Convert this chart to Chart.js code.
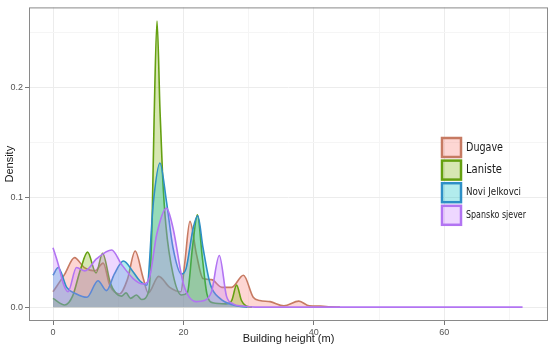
<!DOCTYPE html>
<html>
<head>
<meta charset="utf-8">
<script src="https://cdn.jsdelivr.net/npm/chart.js@4.4.0/dist/chart.umd.min.js"></script>
<style>
  html, body { margin: 0; padding: 0; background: #fff; }
  canvas { display: block; }
</style>
</head>
<body>
<canvas id="chart" width="550" height="347"></canvas>
<script>
// kernel density curves (x = building height in m)
const seriesNames = ['Dugave', 'Laniste', 'Novi Jelkovci', 'Spansko sjever'];

const dugaveX = [0, 1.8, 3.3, 4.8, 6.4, 7.7, 8.7, 10.2, 11.4, 12.6, 13.8, 14.6, 16.2, 17.9, 19.6, 20.2, 21.0, 22.0, 23.0, 24.3, 25.9, 27.4, 29.2, 30.7, 31.7, 33.3, 35.4, 37.7, 39.3, 41.0, 42.5, 44];
const dugaveY = [0.014, 0.030, 0.045, 0.036, 0.033, 0.040, 0.020, 0.012, 0.025, 0.051, 0.027, 0.013, 0.028, 0.018, 0.014, 0.040, 0.078, 0.048, 0.026, 0.025, 0.018, 0.018, 0.029, 0.009, 0.006, 0.005, 0.0012, 0.0055, 0.0012, 0.001, 0.0003, 0];

const lanisteX = [0, 1.8, 3.0, 4.2, 5.3, 6.6, 7.6, 8.8, 9.6, 10.5, 11.2, 11.9, 12.8, 13.6, 14.7, 15.2, 15.5, 15.95, 16.4, 16.8, 17.3, 18.4, 19.7, 20.6, 21.4, 22.15, 22.9, 23.6, 24.5, 26.5, 27.4, 28.15, 28.9, 29.6, 30.5];
const lanisteY = [0.008, 0.002, 0.010, 0.034, 0.050, 0.031, 0.049, 0.022, 0.013, 0.010, 0.013, 0.008, 0.011, 0.007, 0.015, 0.080, 0.170, 0.260, 0.180, 0.120, 0.075, 0.030, 0.011, 0.013, 0.055, 0.084, 0.045, 0.012, 0.004, 0.003, 0.006, 0.020, 0.006, 0.001, 0];

const noviX = [0, 0.8, 2.1, 3.6, 5.2, 6.9, 8.2, 9.4, 10.8, 12.3, 13.3, 14.4, 15.4, 16.4, 17.4, 18.4, 19.7, 20.4, 21.5, 22.2, 23.0, 24.1, 25.6, 27.6, 29.8];
const noviY = [0.029, 0.036, 0.018, 0.012, 0.009, 0.024, 0.015, 0.030, 0.042, 0.032, 0.024, 0.020, 0.096, 0.131, 0.096, 0.054, 0.030, 0.035, 0.072, 0.083, 0.054, 0.021, 0.008, 0.002, 0];

const spanskoX = [0, 0.8, 1.6, 2.3, 3.6, 4.9, 6.7, 9.0, 10.5, 12.3, 13.8, 14.8, 15.9, 17.4, 18.4, 20.0, 22.0, 23.2, 24.3, 25.5, 26.6, 27.6, 29.0, 31.0, 72];
const spanskoY = [0.054, 0.039, 0.021, 0.014, 0.036, 0.033, 0.044, 0.052, 0.039, 0.026, 0.021, 0.027, 0.066, 0.090, 0.072, 0.021, 0.005, 0.006, 0.014, 0.047, 0.010, 0.003, 0.001, 0, 0];

const xTicks = [0, 10, 20, 30, 40, 50, 60, 70];
const xTickLabels = ['0', '', '20', '', '40', '', '60', ''];
const yTicks = [0, 0.05, 0.1, 0.15, 0.2, 0.25];
const yTickLabels = ['0.0', '', '0.1', '', '0.2', ''];

const lineColors = ['#c67a62', '#65a010', '#2e8fc6', '#b274f2'];
const fillColors = ['rgba(248,118,109,0.3)', 'rgba(124,174,0,0.3)', 'rgba(0,191,196,0.3)', 'rgba(199,124,255,0.3)'];

function toPoints(xs, ys) {
  return xs.map((x, i) => ({x: x, y: ys[i]}));
}

const allX = [dugaveX, lanisteX, noviX, spanskoX];
const allY = [dugaveY, lanisteY, noviY, spanskoY];

const datasets = seriesNames.map((name, i) => ({
  label: name,
  data: toPoints(allX[i], allY[i]),
  borderColor: lineColors[i],
  backgroundColor: fillColors[i],
  borderWidth: 1.6,
  pointRadius: 0,
  fill: 'origin',
  cubicInterpolationMode: 'monotone',
  order: seriesNames.length - i   // first series at the bottom
}));

// ggplot-ish panel border
const panelBorder = {
  id: 'panelBorder',
  afterDraw(chart) {
    const a = chart.chartArea, ctx = chart.ctx;
    ctx.save();
    ctx.strokeStyle = '#8a8a8a';
    ctx.lineWidth = 1;
    ctx.strokeRect(a.left + 0.5, a.top + 0.5, a.right - a.left - 1, a.bottom - a.top - 1);
    ctx.restore();
  }
};

// legend keys drawn inside the panel
const legendKeys = {
  id: 'legendKeys',
  afterDraw(chart) {
    const ctx = chart.ctx;
    // the legend in the figure uses uneven text sizes; squeeze each label to its width there
    const textWidths = [37, 36, 55, 60];
    const fontSizes = [13, 12.5, 10, 10];
    const keyX = 442, keyY = 138, step = 22.6, size = 19;
    ctx.save();
    seriesNames.forEach((name, i) => {
      const y = keyY + i * step;
      ctx.fillStyle = fillColors[i];
      ctx.fillRect(keyX, y, size, size);
      ctx.strokeStyle = lineColors[i];
      ctx.lineWidth = 2.5;
      ctx.strokeRect(keyX, y, size, size);
      ctx.fillStyle = '#1a1a1a';
      ctx.font = fontSizes[i] + 'px "DejaVu Sans"';
      ctx.textBaseline = 'middle';
      ctx.fillText(name, keyX + size + 5, y + size / 2, textWidths[i]);
    });
    ctx.restore();
  }
};

new Chart(document.getElementById('chart'), {
  type: 'line',
  data: {datasets: datasets},
  options: {
    responsive: false,
    animation: false,
    layout: {padding: {top: 4, right: 2, left: 0, bottom: 0}},
    plugins: {
      legend: {display: false},
      tooltip: {enabled: false}
    },
    scales: {
      x: {
        type: 'linear',
        min: -3.68,
        max: 75.9,
        afterBuildTicks: scale => { scale.ticks = xTicks.map(v => ({value: v})); },
        afterFit: scale => { scale.height = 26; },
        ticks: {
          autoSkip: false,
          maxRotation: 0,
          padding: 2,
          color: '#555',
          font: {family: 'Liberation Sans', size: 9},
          callback: (v, i) => xTickLabels[i]
        },
        grid: {
          color: ctx => (ctx.index % 2 === 0 ? '#ececec' : '#f5f5f5'),
          tickColor: ctx => (ctx.index % 2 === 0 ? '#777' : 'rgba(0,0,0,0)'),
          tickLength: 4,
          lineWidth: 1
        },
        border: {display: false},
        title: {
          display: true,
          text: 'Building height (m)',
          color: '#1a1a1a',
          font: {family: 'Liberation Sans', size: 11},
          padding: {top: 0, bottom: 1}
        }
      },
      y: {
        type: 'linear',
        min: -0.0126,
        max: 0.2725,
        afterBuildTicks: scale => { scale.ticks = yTicks.map(v => ({value: v})); },
        afterFit: scale => { scale.width = 29; },
        ticks: {
          autoSkip: false,
          padding: 2,
          color: '#555',
          font: {family: 'Liberation Sans', size: 9},
          callback: (v, i) => yTickLabels[i]
        },
        grid: {
          color: ctx => (ctx.index % 2 === 0 ? '#ececec' : '#f5f5f5'),
          tickColor: ctx => (ctx.index % 2 === 0 ? '#777' : 'rgba(0,0,0,0)'),
          tickLength: 4,
          lineWidth: 1
        },
        border: {display: false},
        title: {
          display: true,
          text: 'Density',
          color: '#1a1a1a',
          font: {family: 'Liberation Sans', size: 11},
          padding: {top: 3, bottom: 0}
        }
      }
    }
  },
  plugins: [panelBorder, legendKeys]
});
</script>
</body>
</html>
